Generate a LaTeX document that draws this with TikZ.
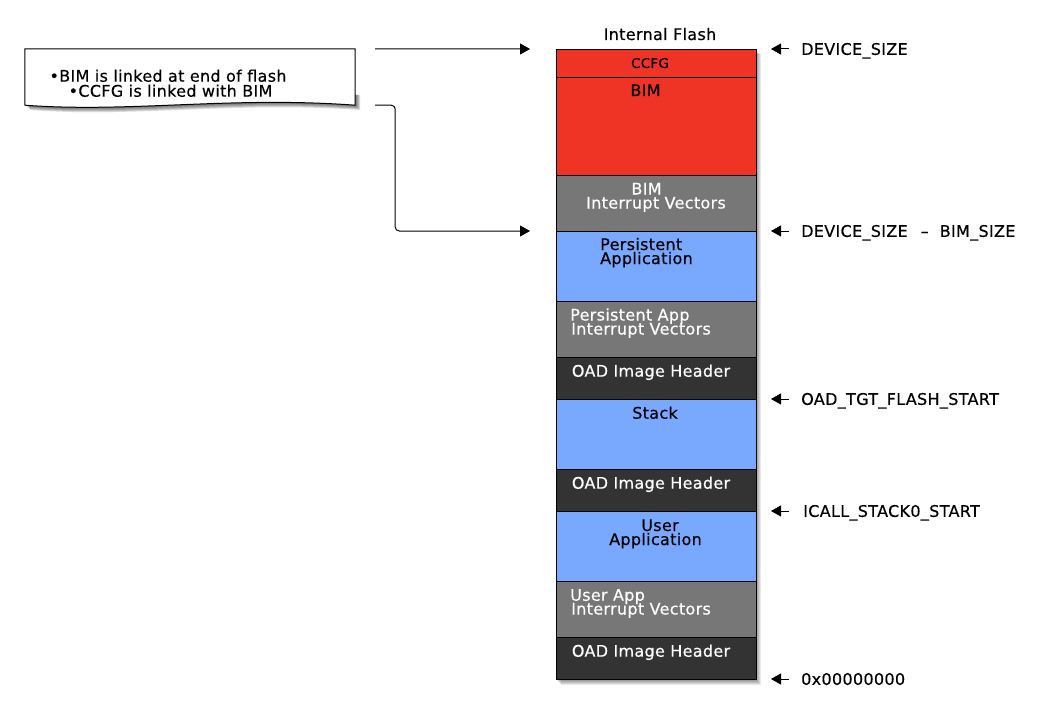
\documentclass[tikz,border=0pt]{standalone}
\usepackage{fontspec}
\setmainfont{DejaVu Sans}[FakeBold=0.4, LetterSpace=2]
\usepackage{xcolor}
\usetikzlibrary{positioning,arrows.meta}
\definecolor{bimred}{RGB}{239,51,36}
\definecolor{appblue}{RGB}{121,168,255}
\definecolor{vecgray}{RGB}{119,119,119}
\definecolor{hdrdark}{RGB}{51,51,51}

\tikzset{
	region/.style={draw=black, line width=1pt, minimum width=200pt, inner sep=0pt, anchor=north west},
	blktext/.style={font=\fontsize{16}{14}\selectfont, inner sep=0pt, anchor=base},
	lefttext/.style={blktext, anchor=base west},
	wht/.style={text=white},
	addr/.style={font=\fontsize{16}{14}\selectfont, inner sep=0pt, anchor=west, text height=11.7pt, text depth=0pt},
	ptr/.style={line width=1pt, -{Triangle[length=10pt,width=11pt]}},
	link/.style={line width=1pt, rounded corners=4pt, -{Triangle[length=10pt,width=11pt]}}
}

\begin{document}
\begin{tikzpicture}[x=1pt,y=-1pt]
		\useasboundingbox[fill=white] (0,0) rectangle (1040,714);
		% shadows
		\foreach \s in {1,...,6}
			\fill[black, opacity=0.09] (555+\s,48+\s) rectangle (755+\s,679+\s);
		\foreach \s in {1,...,5}
			\fill[black, opacity=0.14] (25+\s,105+\s) .. controls (130+\s,113+\s) and (230+\s,96+\s) .. (355+\s,105+\s) -- (355+\s,95) -- (25+\s,95) -- cycle;
		% note
		\node[minimum width=330pt, minimum height=56pt, inner sep=0pt] (note) at (190,77) {};
		\draw[line width=1pt, fill=white] (note.south west) -- (note.north west) -- (note.north east) -- (note.south east)
			.. controls (230,96) and (130,113) .. (note.south west) -- cycle;
		\node[blktext] (notea) at (168,81.7) {•BIM is linked at end of flash};
		\node[blktext] (noteb) at (170.5,96.7) {•CCFG is linked with BIM};
		% flash regions
		\node[blktext] (title) at (660,40) {Internal Flash};
		\foreach \name/\top/\h/\col in {ccfg/49/28/bimred, bim/77/98/bimred, bimvec/175/56/vecgray,
				persist/231/70/appblue, persvec/301/56/vecgray, hdra/357/42/hdrdark, stack/399/70/appblue,
				hdrb/469/42/hdrdark, user/511/70/appblue, uservec/581/56/vecgray, hdrc/637/42/hdrdark}
			\node[region, fill=\col, minimum height=\h pt] (\name) at (556,\top) {};
		\node[blktext, font=\fontsize{13.5}{13}\selectfont] (ccfgtxt) at (650,68) {CCFG};
		\node[blktext] (bimtxt) at (645.5,96) {BIM};
		\node[blktext, wht] (bimveca) at (646.5,194.5) {BIM};
		\node[blktext, wht] (bimvecb) at (656,208.5) {Interrupt Vectors};
		\node[lefttext] (persista) at (600,250) {Persistent};
		\node[lefttext] (persistb) at (600,264) {Application};
		\node[lefttext, wht] (persveca) at (570,320.5) {Persistent App};
		\node[lefttext, wht] (persvecb) at (571,334.5) {Interrupt Vectors};
		\node[blktext, wht] (hdratxt) at (651,376.7) {OAD Image Header};
		\node[blktext] (stacktxt) at (655,418.7) {Stack};
		\node[blktext, wht] (hdrbtxt) at (651,488.7) {OAD Image Header};
		\node[blktext] (usera) at (660,531) {User};
		\node[blktext] (userb) at (655.5,545) {Application};
		\node[lefttext, wht] (userveca) at (570,600.7) {User App};
		\node[lefttext, wht] (uservecb) at (571,614.5) {Interrupt Vectors};
		\node[blktext, wht] (hdrctxt) at (651,656.7) {OAD Image Header};
		% addresses
		\node[addr] (devsize) at (801,49) {DEVICE\_SIZE};
		\node[addr] (bimsize) at (801,231) {DEVICE\_SIZE\hspace{13pt}–\hspace{11pt}BIM\_SIZE};
		\node[addr] (tgtstart) at (801,399) {OAD\_TGT\_FLASH\_START};
		\node[addr] (stackstart) at (803,511) {ICALL\_STACK0\_START};
		\node[addr] (zero) at (801,679) {0x00000000};
		\foreach \lbl in {devsize, bimsize, tgtstart, zero}
			\draw[ptr] ([xshift=-12pt]\lbl.west) -- ([xshift=-30pt]\lbl.west);
		\draw[ptr] ([xshift=-14pt]stackstart.west) -- ([xshift=-32pt]stackstart.west);
		% links from note
		\coordinate (bend) at ([xshift=40pt]note.south east);
		\draw[ptr] ([xshift=20pt]note.north east) -- ([xshift=-26pt]ccfg.north west);
		\draw[link] ([xshift=20pt]note.south east) -- (bend) |- ([xshift=-26pt]persist.north west);
	\end{tikzpicture}
\end{document}
